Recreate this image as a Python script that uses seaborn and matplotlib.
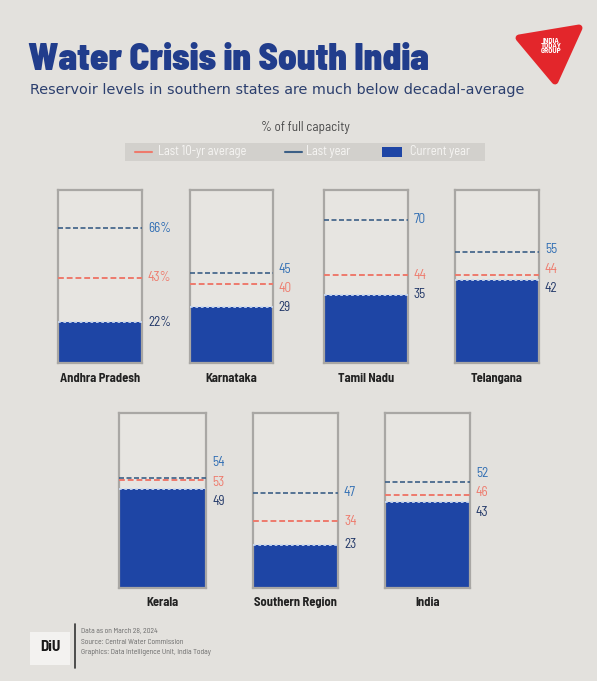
import matplotlib
matplotlib.use("Agg")
import matplotlib.pyplot as plt
from matplotlib.patches import Rectangle, Polygon
from matplotlib.lines import Line2D
import seaborn as sns
import pandas as pd

# ---------------- data ----------------
regions = ["Andhra Pradesh", "Karnataka", "Tamil Nadu", "Telangana",
           "Kerala", "Southern Region", "India"]
last10_avg = [43, 40, 44, 44, 53, 34, 46]
last_year = [66, 45, 70, 55, 54, 47, 52]
current_year = [22, 29, 35, 42, 49, 23, 43]
pct_suffix = [True, False, False, False, False, False, False]

title = "Water Crisis in South India"
subtitle = "Reservoir levels in southern states are much below decadal-average"
unit_label = "% of full capacity"
legend_labels = ["Last 10-yr average", "Last year", "Current year"]
footer_lines = ["Data as on March 28, 2024",
                "Source: Central Water Commission",
                "Graphics: Data Intelligence Unit, India Today"]

# ---------------- style ----------------
BG = "#e3e1dd"
TANK_BG = "#e7e5e1"
FILL = "#1e45a5"
RED = "#ee7a6c"
LY = "#3c5f86"
LY_TXT = "#2f6db3"
CUR_TXT = "#1f3566"
TITLE_C = "#213d8c"
OUTLINE = "#a9a7a4"

sns.set_theme(style="white")
FONT = ["Barlow Semi Condensed", "DejaVu Sans"]
plt.rcParams["font.family"] = FONT

W, H = 597, 681
fig = plt.figure(figsize=(W / 100, H / 100), dpi=100, facecolor=BG)


def fx(px):
    return px / W


def fy(py):
    return 1 - py / H


# tank boxes in pixels: (left, top, right, bottom)
boxes = [(58, 190, 142, 363), (190, 190, 273, 363), (324, 190, 408, 363),
         (455, 190, 539, 363),
         (119, 413, 206, 588), (253, 413, 338, 588), (385, 413, 470, 588)]

YMIN, YMAX = 3, 84


def spread(vals, gap):
    order = sorted(range(len(vals)), key=lambda i: -vals[i])
    pos = list(vals)
    for _ in range(100):
        for a, b in zip(order[:-1], order[1:]):
            d = pos[a] - pos[b]
            if d < gap:
                s = (gap - d) / 2
                pos[a] += s
                pos[b] -= s
    return pos


for i, name in enumerate(regions):
    l, t, r, b = boxes[i]
    ax = fig.add_axes([fx(l), fy(b), fx(r - l), (b - t) / H])
    ax.set_facecolor(TANK_BG)
    df = pd.DataFrame({"region": [name], "current": [current_year[i]]})
    sns.barplot(data=df, x="region", y="current", width=1.0, color=FILL,
                saturation=1, ax=ax, edgecolor="none", linewidth=0)
    ax.set_xlim(-0.5, 0.5)
    ax.set_ylim(YMIN, YMAX)
    # water surface shimmer
    ax.plot([-0.5, 0.5], [current_year[i], current_year[i]], color="#c9d8f0",
            lw=1.3, ls=(0, (1.5, 1.5)), zorder=3)
    ax.plot([-0.5, 0.5], [last10_avg[i], last10_avg[i]], color=RED, lw=1.4,
            ls=(0, (3, 1.5)), zorder=4)
    ax.plot([-0.5, 0.5], [last_year[i], last_year[i]], color=LY, lw=1.2,
            ls=(0, (3, 1.5)), zorder=5)
    for sp in ax.spines.values():
        sp.set_color(OUTLINE)
        sp.set_linewidth(1.6)
        sp.set_visible(True)
    ax.set_xticks([])
    ax.set_yticks([])
    ax.set_xlabel("")
    ax.set_ylabel("")

    vals = [last_year[i], last10_avg[i], current_year[i]]
    cols = [LY_TXT, RED, CUR_TXT]
    pos = spread(vals, 9.0)
    sfx = "%" if pct_suffix[i] else ""
    for v, p, c in zip(vals, pos, cols):
        ax.text(0.57, p, f"{v}{sfx}", color=c, fontsize=9.5, va="center",
                ha="left", clip_on=False)

    fig.text(fx((l + r) / 2), fy(b + 15), name, ha="center", va="center",
             fontsize=9, fontweight="bold", color="#222222")

# ---------------- titles ----------------
fig.text(fx(28), fy(60), title, fontsize=26.5, fontweight=900, color=TITLE_C,
         va="center", ha="left")
fig.text(fx(30), fy(90), subtitle, fontsize=10.4, color="#2c3f6e",
         va="center", ha="left", family=["DejaVu Sans"])
fig.text(fx(305), fy(128), unit_label, fontsize=9.5, color="#4a4a4a",
         va="center", ha="center")

# ---------------- legend bar ----------------
fig.patches.append(Rectangle((fx(125), fy(161)), fx(360), 18 / H,
                             transform=fig.transFigure, facecolor="#d2d0cc",
                             edgecolor="none"))
ly = fy(152)
fig.lines.append(Line2D([fx(135), fx(152)], [ly, ly], color=RED, lw=1.5,
                        transform=fig.transFigure))
fig.text(fx(158), ly, legend_labels[0], fontsize=9, color="#f7f6f4",
         va="center", ha="left")
fig.lines.append(Line2D([fx(285), fx(302)], [ly, ly], color=LY, lw=1.5,
                        transform=fig.transFigure))
fig.text(fx(306), ly, legend_labels[1], fontsize=9, color="#f7f6f4",
         va="center", ha="left")
fig.patches.append(Rectangle((fx(382), fy(157)), fx(20), 10 / H,
                             transform=fig.transFigure, facecolor=FILL,
                             edgecolor="none"))
fig.text(fx(410), ly, legend_labels[2], fontsize=9, color="#f7f6f4",
         va="center", ha="left")

# ---------------- logo ----------------
fig.patches.append(Polygon([(fx(519), fy(38)), (fx(579), fy(28)),
                            (fx(555), fy(81))], closed=True,
                           transform=fig.transFigure, facecolor="#e3262b",
                           edgecolor="#e3262b", lw=5, joinstyle="round"))
fig.text(fx(551), fy(46), "INDIA\nTODAY\nGROUP", fontsize=5.5,
         fontweight="bold", color="white", ha="center", va="center",
         linespacing=0.85)

# ---------------- footer ----------------
fig.patches.append(Rectangle((fx(30), fy(665)), fx(40), 33 / H,
                             transform=fig.transFigure, facecolor="#f3f2f0",
                             edgecolor="none"))
fig.text(fx(50), fy(647), "DiU", fontsize=11, fontweight="bold",
         color="#1a1a1a", ha="center", va="center")
fig.lines.append(Line2D([fx(75), fx(75)], [fy(624), fy(668)], color="#333333",
                        lw=1.2, transform=fig.transFigure))
for k, line in enumerate(footer_lines):
    fig.text(fx(81), fy(631 + 11 * k), line, fontsize=5.5, color="#6a6a6a",
             ha="left", va="center")

fig.savefig("out.png", dpi=100, facecolor=BG)
